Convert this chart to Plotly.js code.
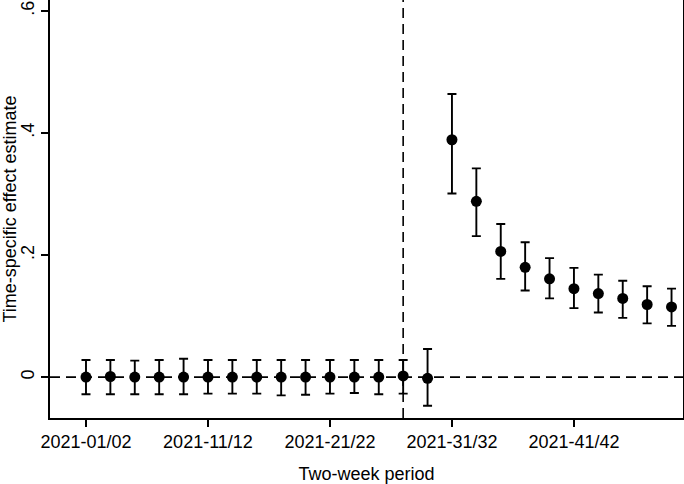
<!DOCTYPE html>
<html>
<head>
<meta charset="utf-8">
<script src="https://cdn.plot.ly/plotly-3.0.1.min.js"></script>
<style>
  html, body { margin: 0; padding: 0; background: #fff; }
  #chart { width: 684px; height: 484px; }
</style>
</head>
<body>
<div id="chart"></div>
<script>
// two-week periods, 2021
var periods = [
  '2021-01/02', '2021-03/04', '2021-05/06', '2021-07/08', '2021-09/10',
  '2021-11/12', '2021-13/14', '2021-15/16', '2021-17/18', '2021-19/20',
  '2021-21/22', '2021-23/24', '2021-25/26', '2021-27/28', '2021-29/30',
  '2021-31/32', '2021-33/34', '2021-35/36', '2021-37/38', '2021-39/40',
  '2021-41/42', '2021-43/44', '2021-45/46', '2021-47/48', '2021-49/50'
];

// point estimates and 95% CI bounds
var estimate = [
  0.000, 0.001, 0.000, 0.000, 0.000,
  0.000, 0.000, 0.000, 0.000, 0.000,
  0.000, 0.000, 0.000, 0.002, -0.002,
  0.389, 0.288, 0.206, 0.180, 0.161,
  0.145, 0.137, 0.129, 0.119, 0.115
];
var ciLow = [
  -0.028, -0.028, -0.028, -0.028, -0.028,
  -0.027, -0.027, -0.027, -0.030, -0.029,
  -0.027, -0.026, -0.028, -0.027, -0.047,
  0.301, 0.231, 0.161, 0.142, 0.129,
  0.113, 0.106, 0.097, 0.088, 0.084
];
var ciHigh = [
  0.028, 0.028, 0.027, 0.028, 0.030,
  0.028, 0.028, 0.028, 0.028, 0.028,
  0.028, 0.028, 0.028, 0.028, 0.046,
  0.464, 0.342, 0.251, 0.221, 0.195,
  0.179, 0.168, 0.158, 0.149, 0.145
];

var xTicks = ['2021-01/02', '2021-11/12', '2021-21/22', '2021-31/32', '2021-41/42'];
var yTicks = [0, 0.2, 0.4, 0.6];
var yTickText = ['0', '.2', '.4', '.6'];
var treatPeriod = '2021-27/28';

var errPlus = estimate.map(function(v, i) { return ciHigh[i] - v; });
var errMinus = estimate.map(function(v, i) { return v - ciLow[i]; });

var trace = {
  type: 'scatter',
  mode: 'markers',
  x: periods,
  y: estimate,
  marker: { color: '#000', size: 11 },
  error_y: {
    type: 'data',
    symmetric: false,
    array: errPlus,
    arrayminus: errMinus,
    color: '#000',
    thickness: 1.9,
    width: 4.5
  },
  showlegend: false,
  hoverinfo: 'x+y'
};

var treatIdx = periods.indexOf(treatPeriod);

var layout = {
  width: 684,
  height: 484,
  margin: { l: 50, r: 1, t: 0, b: 66 },
  paper_bgcolor: '#fff',
  plot_bgcolor: '#fff',
  font: { family: 'Liberation Sans, Arial, sans-serif', size: 18, color: '#000' },
  xaxis: {
    type: 'category',
    categoryorder: 'array',
    categoryarray: periods,
    range: [-1.475, 24.47],
    tickmode: 'array',
    tickvals: xTicks,
    ticktext: xTicks,
    ticks: 'outside',
    ticklen: 7,
    tickwidth: 1.6,
    tickcolor: '#000',
    showgrid: false,
    zeroline: false,
    showline: true,
    linecolor: '#000',
    linewidth: 1.6,
    mirror: true,
    tickangle: 0,
    title: { text: 'Two-week period', font: { size: 18 }, standoff: 18 }
  },
  yaxis: {
    range: [-0.067, 0.618],
    tickmode: 'array',
    tickvals: yTicks,
    ticktext: yTickText,
    tickangle: -90,
    ticks: 'outside',
    ticklen: 7,
    tickwidth: 1.6,
    tickcolor: '#000',
    showgrid: false,
    zeroline: false,
    showline: true,
    linecolor: '#000',
    linewidth: 1.6,
    mirror: true,
    title: { text: 'Time-specific effect estimate', font: { size: 18 }, standoff: 5 }
  },
  shapes: [
    {
      type: 'line', xref: 'paper', yref: 'y', x0: 0, x1: 1, y0: 0, y1: 0,
      line: { color: '#000', width: 1.6, dash: '10px,6px' }, layer: 'below'
    },
    {
      type: 'line', xref: 'x', yref: 'paper', x0: treatIdx, x1: treatIdx, y0: 0, y1: 1,
      line: { color: '#000', width: 1.6, dash: '10px,6px' }, layer: 'below'
    }
  ]
};

Plotly.newPlot('chart', [trace], layout, { displayModeBar: false, staticPlot: true });
</script>
</body>
</html>
